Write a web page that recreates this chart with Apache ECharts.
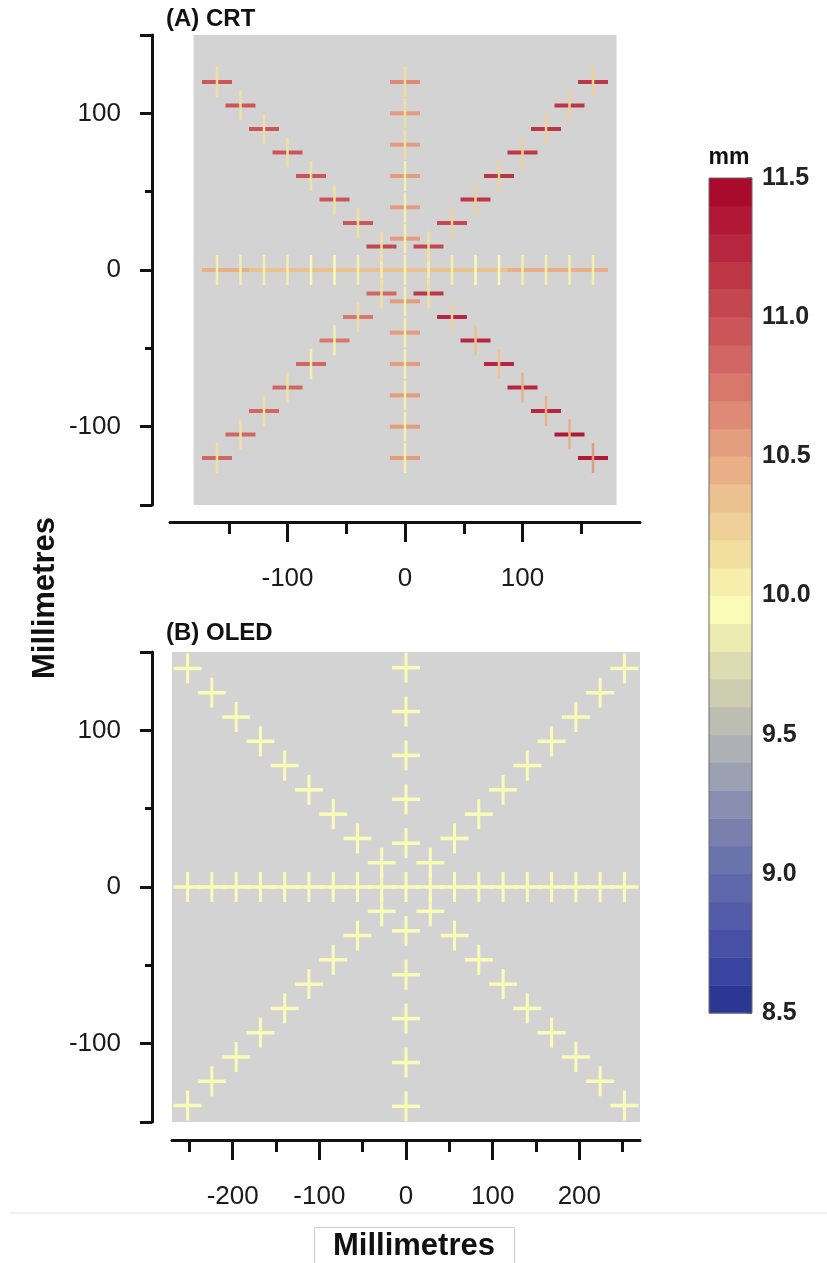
<!DOCTYPE html>
<html><head><meta charset="utf-8">
<script src="https://cdn.jsdelivr.net/npm/echarts@6/dist/echarts.min.js"></script>
<style>html,body{margin:0;padding:0;background:#fff}#c{width:827px;height:1263px}</style>
</head><body><div id="c"></div>
<script>
// ---------------- Panel A : CRT ----------------
const crtHLineX = [-160,-140,-120,-100,-80,-60,-40,-20,0,20,40,60,80,100,120,140,160];
const crtHLineH = [10.42,10.40,10.38,10.38,10.36,10.36,10.35,10.35,10.36,10.36,10.36,10.38,10.38,10.40,10.40,10.42,10.42];
const crtHLineV = [10.05,10.02,10.00,10.00,9.98,9.98,10.00,10.02,10.05,10.02,10.00,9.98,9.98,10.00,10.00,10.02,10.05];

const crtVLineY = [120,100,80,60,40,20,-20,-40,-60,-80,-100,-120];
const crtVLineH = [10.62,10.55,10.55,10.52,10.52,10.50,10.52,10.52,10.55,10.55,10.55,10.58];
const crtVLineV = [10.12,10.10,10.10,10.08,10.08,10.08,10.05,10.05,10.05,10.05,10.05,10.08];

const crtDiagX = [20,40,60,80,100,120,140,160];
const crtDiagY = [15,30,45,60,75,90,105,120];
const crtTL_H = [11.05,10.95,10.95,10.92,10.92,10.92,10.95,10.95];
const crtTL_V = [10.12,10.12,10.15,10.15,10.15,10.12,10.12,10.12];
const crtTR_H = [11.05,11.08,11.10,11.12,11.12,11.15,11.15,11.15];
const crtTR_V = [10.15,10.20,10.22,10.25,10.25,10.22,10.25,10.25];
const crtBL_H = [10.82,10.78,10.78,10.80,10.80,10.82,10.82,10.85];
const crtBL_V = [10.10,10.10,10.08,10.08,10.10,10.10,10.12,10.12];
const crtBR_H = [11.15,11.20,11.25,11.25,11.28,11.28,11.30,11.30];
const crtBR_V = [10.15,10.25,10.32,10.38,10.42,10.45,10.48,10.50];

// ---------------- Panel B : OLED ----------------
const oledHLineX = [-252,-224,-196,-168,-140,-112,-84,-56,-28,0,28,56,84,112,140,168,196,224,252];
const oledHLineH = [9.93,9.94,9.93,9.95,9.94,9.93,9.94,9.95,9.94,9.95,9.94,9.93,9.94,9.95,9.94,9.93,9.94,9.93,9.94];
const oledHLineV = [9.90,9.91,9.90,9.92,9.91,9.90,9.91,9.92,9.91,9.92,9.91,9.90,9.91,9.92,9.91,9.90,9.91,9.90,9.91];

const oledVLineY = [140,112,84,56,28,-28,-56,-84,-112,-140];
const oledVLineH = [9.93,9.92,9.93,9.94,9.93,9.93,9.94,9.93,9.92,9.93];
const oledVLineV = [9.90,9.90,9.91,9.91,9.90,9.90,9.91,9.91,9.90,9.90];

const oledDiagX = [28,56,84,112,140,168,196,224,252];
const oledDiagY = [15.5,31,46.5,62,77.5,93,108.5,124,139.5];
const oledTL_H = [9.95,9.94,9.93,9.93,9.94,9.93,9.93,9.94,9.93];
const oledTL_V = [9.91,9.90,9.90,9.91,9.90,9.90,9.91,9.90,9.90];
const oledTR_H = [9.97,9.96,9.94,9.93,9.94,9.93,9.94,9.93,9.94];
const oledTR_V = [9.91,9.90,9.91,9.90,9.90,9.91,9.90,9.90,9.91];
const oledBL_H = [9.94,9.93,9.93,9.94,9.93,9.93,9.94,9.93,9.93];
const oledBL_V = [9.90,9.91,9.90,9.90,9.91,9.90,9.90,9.91,9.90];
const oledBR_H = [9.94,9.93,9.94,9.93,9.93,9.94,9.93,9.93,9.94];
const oledBR_V = [9.91,9.90,9.90,9.91,9.90,9.90,9.91,9.90,9.90];

// ---------------- Colour scale ----------------
const scaleMin = 8.5, scaleMax = 11.5, scaleStep = 0.1;
const palette = ['#2c3793','#3943a0','#4650a4','#535ca8','#5f67aa','#6b73ac','#7a80ae','#8a8fb1','#9ba0b3','#adb0b4',
                 '#bdbeb2','#cdcdb2','#dcdcb2','#ececb2','#fbfbb8','#f6eeab','#f2dfa0','#efd098','#ecc190','#e9b088',
                 '#e49c7e','#de8a76','#d8786c','#d26664','#cb5659','#c4464f','#bd3646','#b6263e','#b01836','#aa0a2e'];

const panelAExtent = [-180,-150,180,150];
const panelBExtent = [-270,-150,270,150];

function colorFor(v){
  let i = Math.floor((v - scaleMin) / scaleStep + 1e-9);
  i = Math.max(0, Math.min(palette.length-1, i));
  return palette[i];
}

function buildCrosses(hx, hh, hv, vy, vh, vv, dx, dy, q){
  const out = [];
  hx.forEach((x,i)=>out.push([x,0,hh[i],hv[i]]));
  vy.forEach((y,i)=>out.push([0,y,vh[i],vv[i]]));
  const quads = [[-1,1,q.TL_H,q.TL_V],[1,1,q.TR_H,q.TR_V],[-1,-1,q.BL_H,q.BL_V],[1,-1,q.BR_H,q.BR_V]];
  quads.forEach(([sx,sy,H,V])=>{
    dx.forEach((x,i)=>out.push([sx*x, sy*dy[i], H[i], V[i]]));
  });
  return out;
}

const crtData = buildCrosses(crtHLineX, crtHLineH, crtHLineV, crtVLineY, crtVLineH, crtVLineV, crtDiagX, crtDiagY,
  {TL_H:crtTL_H,TL_V:crtTL_V,TR_H:crtTR_H,TR_V:crtTR_V,BL_H:crtBL_H,BL_V:crtBL_V,BR_H:crtBR_H,BR_V:crtBR_V});
const oledData = buildCrosses(oledHLineX, oledHLineH, oledHLineV, oledVLineY, oledVLineH, oledVLineV, oledDiagX, oledDiagY,
  {TL_H:oledTL_H,TL_V:oledTL_V,TR_H:oledTR_H,TR_V:oledTR_V,BL_H:oledBL_H,BL_V:oledBL_V,BR_H:oledBR_H,BR_V:oledBR_V});

function armRenderer(horizontal, w, h){
  return function(params, api){
    const c = api.coord([api.value(0), api.value(1)]);
    const val = api.value(horizontal ? 2 : 3);
    return {type:'rect', shape:{x:c[0]-w/2, y:c[1]-h/2, width:w, height:h}, style:{fill:colorFor(val)}};
  };
}
function bgRenderer(params, api){
  const p0 = api.coord([api.value(0), api.value(1)]);
  const p1 = api.coord([api.value(2), api.value(3)]);
  return {type:'rect', shape:{x:p0[0], y:p1[1], width:p1[0]-p0[0], height:p0[1]-p1[1]}, style:{fill:'#d3d3d3'}};
}
function cbRenderer(params, api){
  const i = api.value(0);
  const lo = scaleMin + i*scaleStep, hi = lo + scaleStep;
  const p0 = api.coord([0, lo]), p1 = api.coord([1, hi]);
  return {type:'rect', shape:{x:p0[0], y:p1[1], width:p1[0]-p0[0], height:p0[1]-p1[1]+0.5}, style:{fill:palette[i]}};
}

const FONT = '"Liberation Sans", Arial, sans-serif';
const lineStyle = {color:'#111', width:3};

function xMajor(grid, min, max, offset, vals){
  return {gridIndex:grid, type:'value', min, max, position:'bottom', offset,
    axisLine:{show:true, onZero:false, lineStyle}, splitLine:{show:false},
    axisTick:{show:true, customValues:vals, length:20, lineStyle:{color:'#111', width:3}},
    axisLabel:{show:true, customValues:vals, fontSize:26, fontFamily:FONT, color:'#1a1a1a', margin:44}};
}
function xMinor(grid, min, max, offset, vals){
  return {gridIndex:grid, type:'value', min, max, position:'bottom', offset,
    axisLine:{show:false, onZero:false}, splitLine:{show:false},
    axisTick:{show:true, customValues:vals, length:12, lineStyle:{color:'#111', width:3}},
    axisLabel:{show:false}};
}
function yMajor(grid, offset, tickVals, labelVals){
  return {gridIndex:grid, type:'value', min:-150, max:150, position:'left', offset,
    axisLine:{show:true, onZero:false, lineStyle}, splitLine:{show:false},
    axisTick:{show:true, customValues:tickVals, length:12, lineStyle:{color:'#111', width:3}},
    axisLabel:{show:true, customValues:labelVals, fontSize:26, fontFamily:FONT, color:'#1a1a1a', margin:31}};
}
function yMinor(grid, offset, vals){
  return {gridIndex:grid, type:'value', min:-150, max:150, position:'left', offset,
    axisLine:{show:false, onZero:false}, splitLine:{show:false},
    axisTick:{show:true, customValues:vals, length:7, lineStyle:{color:'#111', width:3}},
    axisLabel:{show:false}};
}

const option = {
  backgroundColor:'#ffffff',
  animation:false,
  grid:[
    {left:170, top:35, width:470, height:470},
    {left:172, top:652, width:468, height:470},
    {left:709, top:178, width:43, height:835}
  ],
  xAxis:[
    xMajor(0,-200,200,17,[-100,0,100]),
    xMinor(0,-200,200,17,[-150,-50,50,150]),
    xMajor(1,-270,270,18,[-200,-100,0,100,200]),
    xMinor(1,-270,270,18,[-250,-150,-50,50,150,250]),
    {gridIndex:2, type:'value', min:0, max:1, show:false}
  ],
  yAxis:[
    yMajor(0,18,[-150,-100,0,100,150],[-100,0,100]),
    yMinor(0,18,[-50,50]),
    yMajor(1,20,[-150,-100,0,100,150],[-100,0,100]),
    yMinor(1,20,[-50,50]),
    {gridIndex:2, type:'value', min:scaleMin, max:scaleMax, interval:0.5, position:'right',
     axisLine:{show:false, onZero:false}, splitLine:{show:false},
     axisTick:{show:true, inside:true, length:5, lineStyle:{color:'rgba(70,40,40,0.7)', width:1.5}},
     axisLabel:{show:true, fontSize:25, fontWeight:'bold', fontFamily:FONT, color:'#222', margin:10,
       showMinLabel:true, showMaxLabel:true, formatter:v=>v.toFixed(1)}}
  ],
  series:[
    {type:'custom', xAxisIndex:0, yAxisIndex:0, renderItem:bgRenderer, data:[panelAExtent], z:1, silent:true},
    {type:'custom', xAxisIndex:0, yAxisIndex:0, renderItem:armRenderer(true,30,4), data:crtData, z:2, silent:true},
    {type:'custom', xAxisIndex:0, yAxisIndex:0, renderItem:armRenderer(false,2.5,30), data:crtData, z:3, silent:true},
    {type:'custom', xAxisIndex:2, yAxisIndex:2, renderItem:bgRenderer, data:[panelBExtent], z:1, silent:true},
    {type:'custom', xAxisIndex:2, yAxisIndex:2, renderItem:armRenderer(true,28,3.5), data:oledData, z:2, silent:true},
    {type:'custom', xAxisIndex:2, yAxisIndex:2, renderItem:armRenderer(false,3,30), data:oledData, z:3, silent:true},
    {type:'custom', xAxisIndex:4, yAxisIndex:4, renderItem:cbRenderer, data:palette.map((c,i)=>[i]), z:2, silent:true}
  ],
  graphic:[
    {type:'text', left:166, top:7, style:{text:'(A) CRT', font:'bold 24px '+FONT, fill:'#111'}},
    {type:'text', left:166, top:621, style:{text:'(B) OLED', font:'bold 24px '+FONT, fill:'#111'}},
    {type:'text', x:729, y:158, style:{text:'mm', font:'bold 23px '+FONT, fill:'#111', align:'center', verticalAlign:'middle'}},
    {type:'rect', shape:{x:709, y:178, width:43, height:835}, style:{fill:'none', stroke:'#6a6a6a', lineWidth:1}, z:100},
    {type:'text', x:45, y:598, rotation:Math.PI/2, style:{text:'Millimetres', font:'bold 31px '+FONT, fill:'#111', align:'center', verticalAlign:'middle'}},
    {type:'line', shape:{x1:10, y1:1213, x2:827, y2:1213}, style:{stroke:'#e3e3e3', lineWidth:1}},
    {type:'rect', shape:{x:314.5, y:1227.5, width:200, height:50}, style:{fill:'#fff', stroke:'#cfcfcf', lineWidth:1}},
    {type:'text', x:414, y:1246, style:{text:'Millimetres', font:'bold 31px '+FONT, fill:'#111', align:'center', verticalAlign:'middle'}, z:10}
  ]
};

const chart = echarts.init(document.getElementById('c'), null, {renderer:'canvas'});
chart.setOption(option);
</script>
</body></html>
